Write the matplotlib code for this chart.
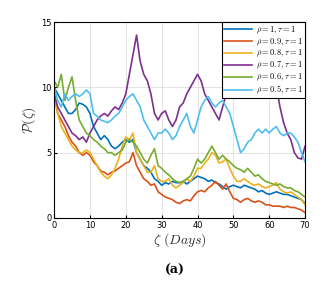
import numpy as np
import matplotlib
matplotlib.use("Agg")
import matplotlib.pyplot as plt

plt.rcParams["mathtext.fontset"] = "cm"

# days 0..70
days = np.arange(0, 71)

rho_1 = [10.0, 9.5, 9.0, 8.5, 8.0, 8.0, 8.3, 8.8, 8.7, 8.5,
         8.0, 7.0, 6.5, 6.0, 6.3, 6.0, 5.5, 5.3, 5.5, 5.8,
         6.0, 5.8, 6.0, 5.0, 4.5, 4.0, 3.8, 3.5, 3.0, 2.8,
         2.5, 2.7, 2.6, 2.8, 2.7, 2.7, 2.8, 2.6, 2.8, 3.0,
         3.2, 3.1, 3.0, 2.8, 2.9, 2.7, 2.6, 2.4, 2.2, 2.4,
         2.5, 2.4, 2.3, 2.5, 2.4, 2.3, 2.2, 2.0, 2.1, 1.9,
         1.8, 1.9, 2.0, 1.9, 1.8, 1.8, 1.7, 1.6, 1.5, 1.4, 1.1]
rho_09 = [9.5, 8.0, 7.5, 7.0, 6.3, 5.8, 5.5, 5.0, 4.8, 5.0,
          4.8, 4.3, 4.0, 3.6, 3.5, 3.3, 3.5, 3.6, 3.8, 4.0,
          4.2, 4.3, 5.0, 4.0, 3.5, 3.0, 2.8, 2.5, 2.6, 2.0,
          1.8, 1.6, 1.5, 1.4, 1.2, 1.1, 1.3, 1.4, 1.3, 1.7,
          2.0, 2.1, 2.0, 2.3, 2.5, 2.8, 2.5, 2.2, 2.6, 2.0,
          1.5, 1.4, 1.2, 1.4, 1.5, 1.3, 1.2, 1.3, 1.2, 1.0,
          1.0, 0.9, 0.9, 0.9, 0.8, 0.9, 0.8, 0.8, 0.7, 0.6, 0.4]
rho_08 = [9.5, 8.0, 7.0, 6.5, 6.0, 5.5, 5.2, 5.0, 5.0, 5.2,
          5.0, 4.5, 4.0, 3.5, 3.2, 3.0, 3.3, 3.8, 4.5, 5.5,
          6.2, 6.0, 6.5, 5.0, 4.5, 4.0, 3.5, 3.5, 4.0, 3.0,
          2.8, 2.8, 3.0, 2.5, 2.3, 2.5, 2.7, 3.0, 2.8, 3.2,
          3.8, 3.8, 4.2, 4.5, 5.0, 4.8, 4.2, 4.3, 4.5, 3.8,
          3.2, 2.8, 2.8, 3.0, 2.8, 2.6, 2.5, 2.6, 2.4, 2.3,
          2.4, 2.5, 2.7, 2.2, 2.0, 1.9, 2.0, 1.8, 1.6, 1.4, 1.0]
rho_07 = [9.5, 8.5, 8.0, 7.5, 7.0, 6.5, 6.3, 6.0, 6.2, 5.8,
          6.5, 7.0, 7.5, 7.8, 8.0, 7.8, 8.2, 8.5, 8.3, 8.8,
          9.5, 11.0, 12.5, 14.0, 12.0, 11.0, 10.5, 9.5, 8.0, 7.5,
          8.0, 8.2, 7.5, 7.0, 7.5, 8.5, 8.8, 9.5, 10.0, 10.5,
          11.0, 10.5, 9.5, 9.0, 8.5, 8.0, 7.5, 8.5, 9.5, 10.0,
          9.8, 9.5, 9.5, 9.8, 10.0, 10.0, 9.6, 9.5, 9.8, 9.5,
          9.5, 9.8, 10.0, 8.5, 7.3, 6.5, 6.0, 5.0, 4.6, 4.5, 5.5]
rho_06 = [10.5, 10.0, 11.0, 9.0, 10.0, 10.8, 9.0, 7.5, 7.0, 6.5,
          6.3, 6.0, 5.8, 5.5, 5.3, 5.0, 5.0, 4.8, 5.0, 5.2,
          5.8, 6.0, 5.8, 5.5, 5.0, 4.5, 4.2, 4.8, 5.3, 4.0,
          3.8, 3.5, 3.3, 3.0, 2.8, 2.7, 2.8, 3.0, 3.2, 3.8,
          4.5, 4.2, 4.5, 5.0, 5.5, 5.0, 4.5, 4.8, 4.5, 4.3,
          4.0, 3.8, 3.7, 3.5, 3.8, 3.5, 3.2, 3.3, 3.0, 2.8,
          2.7, 2.6, 2.5, 2.6, 2.4, 2.3, 2.3, 2.1, 2.0, 1.8, 1.6]
rho_05 = [10.0, 9.0, 8.5, 9.5, 9.0, 9.3, 9.5, 9.3, 9.5, 9.8,
          9.5, 8.0, 7.8, 7.5, 7.4, 7.3, 7.5, 7.8, 8.0, 8.5,
          9.0, 9.3, 9.5, 9.0, 8.5, 7.5, 7.0, 6.5, 6.0, 6.5,
          6.5, 6.8, 6.5, 6.0, 6.3, 7.0, 7.5, 8.0, 7.0, 6.5,
          7.5, 8.5, 9.0, 9.3, 8.8, 8.5, 8.8, 9.0, 8.5, 8.0,
          7.0, 6.0, 5.0, 5.3, 5.8, 6.0, 6.5, 6.8, 6.5, 6.8,
          6.5, 6.8, 7.0, 6.5, 6.3, 6.5, 6.5, 6.2, 5.8, 5.0, 4.3]

series = [rho_1, rho_09, rho_08, rho_07, rho_06, rho_05]
labels = [r"$\rho=1,\tau=1$", r"$\rho=0.9,\tau=1$", r"$\rho=0.8,\tau=1$",
          r"$\rho=0.7,\tau=1$", r"$\rho=0.6,\tau=1$", r"$\rho=0.5,\tau=1$"]
colors = ["#0072BD", "#D95319", "#EDB120", "#7E2F8E", "#77AC30", "#4DBEEE"]

fig = plt.figure(figsize=(3.36, 2.83), dpi=100)
ax = fig.add_axes([0.161, 0.230, 0.747, 0.692])

for y, lab, c in zip(series, labels, colors):
    ax.plot(days, y, color=c, lw=1.2, label=lab)

ax.set_xlim(0, 70)
ax.set_ylim(0, 15)
ax.set_xticks(range(0, 71, 10))
ax.set_yticks([0, 5, 10, 15])
ax.tick_params(labelsize=6, length=2, direction="in", pad=2)
ax.grid(True, color="#dddddd", lw=0.6)
for s in ax.spines.values():
    s.set_linewidth(0.8)

ax.set_xlabel(r"$\zeta\ (Days)$", fontsize=10, color="#333333", labelpad=1)
ax.set_ylabel(r"$\mathcal{P}(\zeta)$", fontsize=10, color="#333333", labelpad=2)

leg = ax.legend(loc="upper right", fontsize=6, frameon=True, fancybox=False,
                edgecolor="black", framealpha=1, borderpad=0.25,
                labelspacing=0.05, handlelength=3.4, handletextpad=0.5,
                borderaxespad=0.0)
leg.get_frame().set_linewidth(0.8)

fig.text(0.52, 0.046, "(a)", ha="center", va="center", fontsize=9,
         fontweight="bold", family="DejaVu Serif")

fig.savefig("out.png", dpi=100)
